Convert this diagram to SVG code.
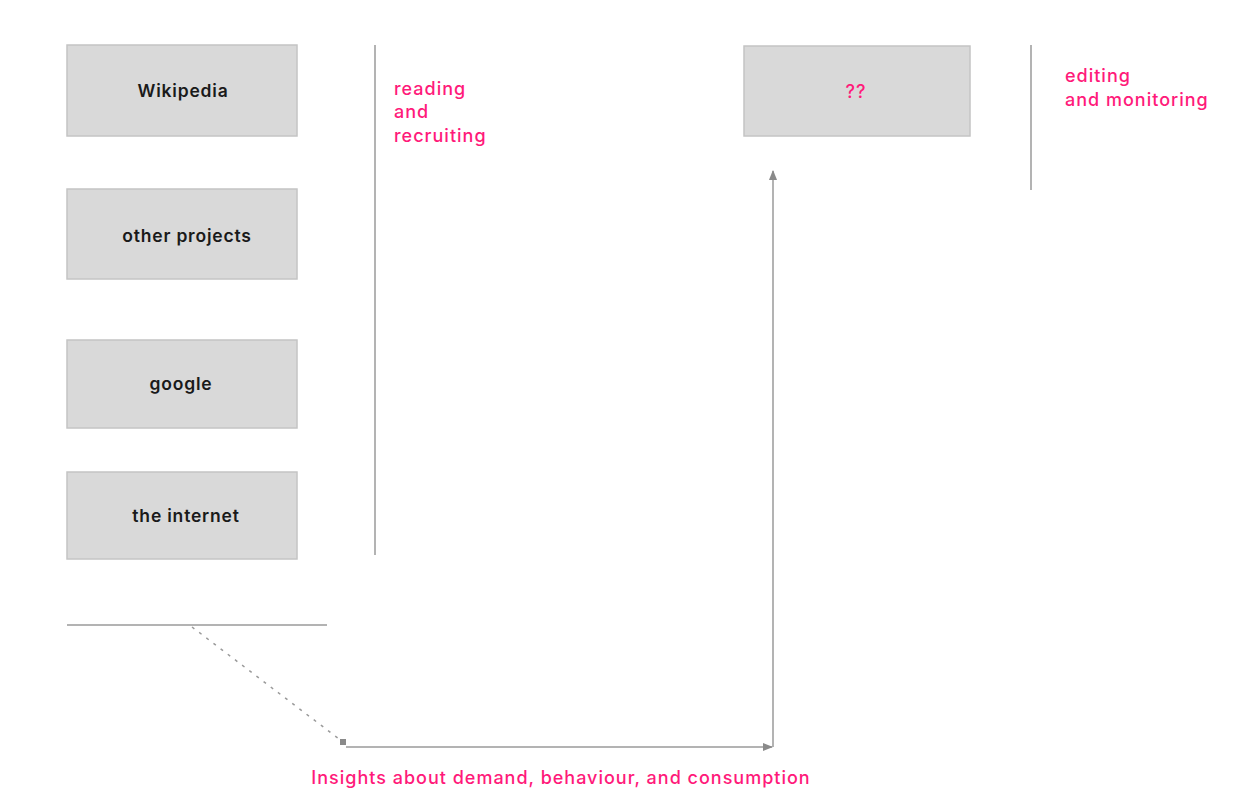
<svg xmlns="http://www.w3.org/2000/svg" width="1248" height="792" viewBox="0 0 1248 792">
<style>
.box{fill:#d9d9d9;stroke:#c4c4c4;stroke-width:1.5}
.lbl{font-family:Inter,"Liberation Sans",sans-serif;font-size:17.5px;font-weight:600;fill:#1a1a1a;text-anchor:middle;letter-spacing:0.8px}
.pink{font-family:Inter,"Liberation Sans",sans-serif;font-size:18px;font-weight:500;fill:#ff1a7a;letter-spacing:1px}
.line{stroke:#9a9a9a;stroke-width:1.5;fill:none}
</style>
<defs>
<marker id="arr" viewBox="0 0 10 10" refX="9" refY="5" markerWidth="7" markerHeight="7" orient="auto">
<path d="M0,1 L10,5 L0,9 z" fill="#8a8a8a"/>
</marker>
</defs>
<rect width="1248" height="792" fill="#ffffff"/>
<g id="wikipedia"><rect class="box" x="67" y="45" width="230" height="91"/><text class="lbl" x="183" y="97">Wikipedia</text></g>
<g id="other-projects"><rect class="box" x="67" y="189" width="230" height="90"/><text class="lbl" x="187" y="242">other projects</text></g>
<g id="google"><rect class="box" x="67" y="340" width="230" height="88"/><text class="lbl" x="181" y="390">google</text></g>
<g id="the-internet"><rect class="box" x="67" y="472" width="230" height="87"/><text class="lbl" x="186" y="522">the internet</text></g>
<g id="unknown"><rect class="box" x="744" y="46" width="226" height="90"/><text class="pink" x="856" y="98" text-anchor="middle">??</text></g>
<g id="dividers">
<line class="line" x1="375" y1="45" x2="375" y2="555" stroke="#c8c8c8"/>
<line class="line" x1="1031" y1="45" x2="1031" y2="190" stroke="#c8c8c8"/>
<line class="line" x1="67" y1="625" x2="327" y2="625"/>
</g>
<g id="labels">
<text class="pink" x="394" y="95">reading</text>
<text class="pink" x="394" y="118">and</text>
<text class="pink" x="394" y="142">recruiting</text>
<text class="pink" x="1065" y="82">editing</text>
<text class="pink" x="1065" y="106">and monitoring</text>
<text class="pink" x="561" y="784" text-anchor="middle">Insights about demand, behaviour, and consumption</text>
</g>
<g id="connectors">
<line class="line" x1="192" y1="627" x2="343" y2="742" stroke-dasharray="3,6"/>
<rect x="340" y="739" width="6" height="6" fill="#8a8a8a"/>
<line class="line" x1="346" y1="747" x2="772" y2="747" marker-end="url(#arr)"/>
<line class="line" x1="773" y1="747" x2="773" y2="171" marker-end="url(#arr)"/>
</g>
</svg>
